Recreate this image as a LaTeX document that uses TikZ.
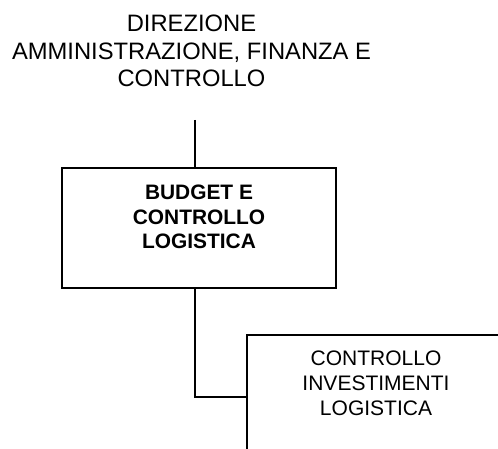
\documentclass[tikz,border=0pt]{standalone}
\usepackage{fontspec}
\setmainfont{Liberation Sans}
\begin{document}
\begin{tikzpicture}[x=1pt,y=-1pt,
  line/.style={line width=1.3pt,black},
  unitbox/.style={draw,line width=1.3pt,minimum width=274pt,minimum height=120pt,inner sep=0pt},
  toptext/.style={align=center,inner sep=0pt,font=\fontsize{23.75}{27.3}\selectfont},
  boldtext/.style={align=center,inner sep=0pt,font=\fontsize{20.9}{24.5}\selectfont\bfseries},
  plaintext/.style={align=center,inner sep=0pt,font=\fontsize{21}{25}\selectfont}]
\useasboundingbox (0,0) rectangle (498,449);
\node[toptext] (dir) at (191.5,51) {DIREZIONE\\AMMINISTRAZIONE, FINANZA E\\CONTROLLO};
\node[unitbox] (b1) at (199,228) {};
\node[boldtext] (t1) at (199,217) {BUDGET E\\CONTROLLO\\LOGISTICA};
\coordinate (topend) at (195,120);
\draw[line] (topend) -- (b1.north -| topend);
\coordinate (b2corner) at (247,335);
\coordinate (b2bottom) at (247,449);
\coordinate (b2right) at (498,335);
\draw[line] (b2bottom) -- (b2corner) -- (b2right);
\coordinate (join) at (247,397);
\draw[line] (b1.south -| topend) |- (join);
\node[plaintext] (t2) at (376,383.5) {CONTROLLO\\INVESTIMENTI\\LOGISTICA};
\end{tikzpicture}
\end{document}
